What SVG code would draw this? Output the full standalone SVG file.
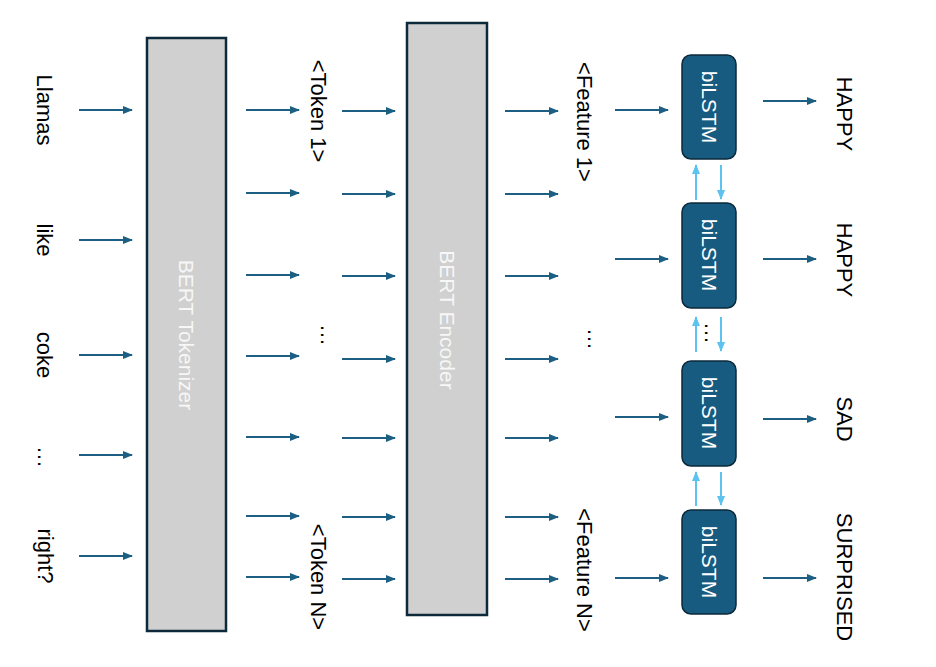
<svg xmlns="http://www.w3.org/2000/svg" width="936" height="667" viewBox="0 0 936 667">
<defs>
<marker id="ah" markerUnits="userSpaceOnUse" markerWidth="10" markerHeight="10" viewBox="0 0 10 10" refX="9" refY="5" orient="auto">
<path d="M0,1 L10,5 L0,9 Z" fill="#1c5f82"/>
</marker>
<marker id="ahl" markerUnits="userSpaceOnUse" markerWidth="10" markerHeight="10" viewBox="0 0 10 10" refX="9" refY="5" orient="auto">
<path d="M0,1 L10,5 L0,9 Z" fill="#5cc3f0"/>
</marker>
<style>
.t{font-family:"Liberation Sans",Arial,sans-serif;font-size:22px;fill:#000;text-anchor:middle}
.w{font-family:"Liberation Sans",Arial,sans-serif;font-size:21px;fill:#fff;text-anchor:middle}
.g{font-family:"Liberation Sans",Arial,sans-serif;font-size:21px;fill:#f7f7f7;text-anchor:middle}
.big{fill:#d0d0d0;stroke:#0c2a3b;stroke-width:2.5}
.lstm{fill:#175b80;stroke:#0c2a3b;stroke-width:1.5}
.a{stroke:#1c5f82;stroke-width:2;fill:none;marker-end:url(#ah)}
.al{stroke:#5cc3f0;stroke-width:2;fill:none;marker-end:url(#ahl)}
</style>
</defs>
<rect width="936" height="667" fill="#fff"/>
<g id="inputs">
<text class="t" transform="translate(37,110) rotate(90)">Llamas</text>
<text class="t" transform="translate(37,240) rotate(90)">like</text>
<text class="t" transform="translate(37,355) rotate(90)">coke</text>
<text class="t" transform="translate(38,457) rotate(90)">…</text>
<text class="t" transform="translate(38,556) rotate(90)">right?</text>
</g>
<g id="tokenizer">
<rect class="big" x="147" y="38" width="79" height="593"/>
<text class="g" transform="translate(179,335) rotate(90)">BERT Tokenizer</text>
</g>
<g id="tokens">
<text class="t" transform="translate(311,111) rotate(90)">&lt;Token 1&gt;</text>
<text class="t" transform="translate(321,335) rotate(90)">…</text>
<text class="t" transform="translate(311,577) rotate(90)">&lt;Token N&gt;</text>
</g>
<g id="encoder">
<rect class="big" x="407" y="23" width="80" height="592"/>
<text class="g" transform="translate(440,320) rotate(90)">BERT Encoder</text>
</g>
<g id="features">
<text class="t" transform="translate(577,122) rotate(90)">&lt;Feature 1&gt;</text>
<text class="t" transform="translate(588,339) rotate(90)">…</text>
<text class="t" transform="translate(577,570) rotate(90)">&lt;Feature N&gt;</text>
</g>
<g id="bilstm1">
<rect class="lstm" x="682" y="55" width="54" height="104" rx="9"/>
<text class="w" transform="translate(702,107) rotate(90)">biLSTM</text>
</g>
<g id="bilstm2">
<rect class="lstm" x="682" y="203" width="54" height="105" rx="9"/>
<text class="w" transform="translate(702,255) rotate(90)">biLSTM</text>
</g>
<g id="bilstm3">
<rect class="lstm" x="682" y="361" width="54" height="105" rx="9"/>
<text class="w" transform="translate(702,413) rotate(90)">biLSTM</text>
</g>
<g id="bilstm4">
<rect class="lstm" x="682" y="510" width="54" height="104" rx="9"/>
<text class="w" transform="translate(702,562) rotate(90)">biLSTM</text>
</g>
<g id="lstmdots">
<text class="t" transform="translate(705,333) rotate(90)">…</text>
</g>
<g id="outputs">
<text class="t" transform="translate(837,114) rotate(90)">HAPPY</text>
<text class="t" transform="translate(837,260) rotate(90)">HAPPY</text>
<text class="t" transform="translate(837,419) rotate(90)">SAD</text>
<text class="t" transform="translate(837,577) rotate(90)">SURPRISED</text>
</g>
<g id="connectors">
<line class="a" x1="79" y1="110" x2="132" y2="110"/>
<line class="a" x1="79" y1="240" x2="132" y2="240"/>
<line class="a" x1="79" y1="355" x2="132" y2="355"/>
<line class="a" x1="79" y1="455" x2="132" y2="455"/>
<line class="a" x1="79" y1="556" x2="132" y2="556"/>
<line class="a" x1="246" y1="110" x2="299" y2="110"/>
<line class="a" x1="246" y1="193" x2="299" y2="193"/>
<line class="a" x1="246" y1="275" x2="299" y2="275"/>
<line class="a" x1="246" y1="356" x2="299" y2="356"/>
<line class="a" x1="246" y1="437" x2="299" y2="437"/>
<line class="a" x1="246" y1="516" x2="299" y2="516"/>
<line class="a" x1="246" y1="577" x2="299" y2="577"/>
<line class="a" x1="342" y1="111" x2="395" y2="111"/>
<line class="a" x1="342" y1="194" x2="395" y2="194"/>
<line class="a" x1="342" y1="276" x2="395" y2="276"/>
<line class="a" x1="342" y1="359" x2="395" y2="359"/>
<line class="a" x1="342" y1="438" x2="395" y2="438"/>
<line class="a" x1="342" y1="517" x2="395" y2="517"/>
<line class="a" x1="342" y1="579" x2="395" y2="579"/>
<line class="a" x1="505" y1="111" x2="558" y2="111"/>
<line class="a" x1="505" y1="194" x2="558" y2="194"/>
<line class="a" x1="505" y1="276" x2="558" y2="276"/>
<line class="a" x1="505" y1="359" x2="558" y2="359"/>
<line class="a" x1="505" y1="438" x2="558" y2="438"/>
<line class="a" x1="505" y1="517" x2="558" y2="517"/>
<line class="a" x1="505" y1="579" x2="558" y2="579"/>
<line class="a" x1="615" y1="110" x2="668" y2="110"/>
<line class="a" x1="615" y1="259" x2="668" y2="259"/>
<line class="a" x1="615" y1="417" x2="668" y2="417"/>
<line class="a" x1="615" y1="578" x2="668" y2="578"/>
<line class="a" x1="763" y1="101" x2="816" y2="101"/>
<line class="a" x1="763" y1="259" x2="816" y2="259"/>
<line class="a" x1="763" y1="419" x2="816" y2="419"/>
<line class="a" x1="763" y1="578" x2="816" y2="578"/>
<line class="al" x1="696" y1="200" x2="696" y2="165"/>
<line class="al" x1="721" y1="165" x2="721" y2="199"/>
<line class="al" x1="696" y1="352" x2="696" y2="317"/>
<line class="al" x1="721" y1="317" x2="721" y2="351"/>
<line class="al" x1="696" y1="506" x2="696" y2="472"/>
<line class="al" x1="721" y1="472" x2="721" y2="505"/>
</g>
</svg>
